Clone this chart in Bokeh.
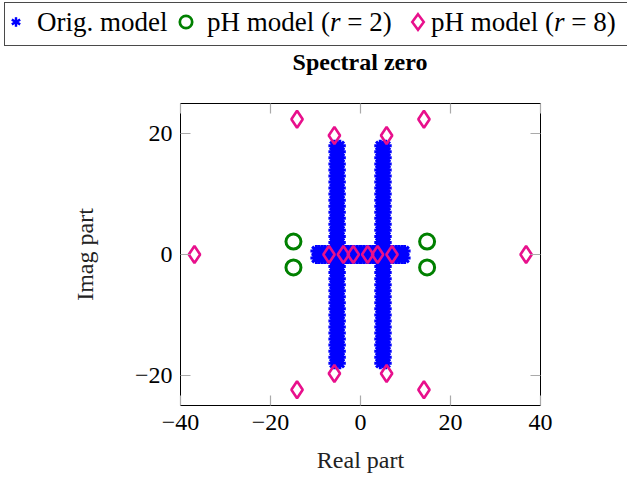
from bokeh.plotting import figure
from bokeh.layouts import column
from bokeh.models import (Range1d, LinearAxis, FixedTicker, Div,
                          GlobalInlineStyleSheet)
from bokeh.embed import file_html
from bokeh.resources import INLINE

# ---------------- data ----------------
# Original model: two dense vertical columns + one dense horizontal band
orig_col_im = [-18, -17, -16, -15, -14, -13, -12, -11, -10, -9,
               -8, -7, -6, -5, -4, -3, -2, -1, 0, 1,
               2, 3, 4, 5, 6, 7, 8, 9, 10, 11,
               12, 13, 14, 15, 16, 17, 18]
orig_col_left_re = [-5.8, -4.6]      # two close sub-columns of the left column
orig_col_right_re = [4.4, 5.6]       # two close sub-columns of the right column
orig_band_re = [-9.8, -9.2, -8.5, -7.9, -7.2, -6.6, -5.9, -5.3, -4.6, -4.0,
                -3.3, -2.7, -2.0, -1.4, -0.7, 0.0, 0.7, 1.4, 2.0, 2.7,
                3.3, 4.0, 4.6, 5.3, 5.9, 6.6, 7.2, 7.9, 8.5, 9.2, 9.8]
orig_band_im = [0.6, -0.6]           # two close rows of the horizontal band

ph2_re = [-14.9, -14.9, 14.8, 14.8]
ph2_im = [2.15, -2.15, 2.15, -2.15]

ph8_re = [-36.9, 36.8, -14.1, -14.1, 14.1, 14.1, -5.8, -5.8, 5.8, 5.8,
          -7.0, -3.8, -1.6, 1.6, 3.8, 7.0]
ph8_im = [0.0, 0.0, 22.4, -22.4, 22.4, -22.4, 19.7, -19.7, 19.7, -19.7,
          0.0, 0.0, 0.0, 0.0, 0.0, 0.0]

x_ticks = [-40, -20, 0, 20, 40]
y_ticks = [-20, 0, 20]
x_tick_labels = {-40: "\u221240", -20: "\u221220", 0: "0", 20: "20", 40: "40"}
y_tick_labels = {-20: "\u221220", 0: "0", 20: "20"}

title_text = "Spectral zero"
x_label = "Real part"
y_label = "Imag part"
legend_labels_html = ["Orig. model",
                      "pH model (<i>r</i> = 2)",
                      "pH model (<i>r</i> = 8)"]

# ---------------- styling ----------------
SERIF = "Liberation Serif"
BLUE = "#0000ff"
GREEN = "#008000"
PINK = "#e8108c"
TICK_GRAY = "#aaaaaa"
HEAD_H = 80          # height of the header strip (legend + title)

orig_re, orig_im = [], []
for xs in (orig_col_left_re, orig_col_right_re):
    for xv in xs:
        for yv in orig_col_im:
            orig_re.append(xv)
            orig_im.append(yv)
for yv in orig_band_im:
    for xv in orig_band_re:
        orig_re.append(xv)
        orig_im.append(yv)

# ---------------- main plot ----------------
p = figure(width=627, height=477 - HEAD_H, output_backend="svg", toolbar_location=None,
           x_range=Range1d(-40, 40), y_range=Range1d(-25, 25),
           min_border_left=180, min_border_right=87,
           min_border_top=103 - HEAD_H, min_border_bottom=72)
p.margin = 0
p.background_fill_color = "white"
p.border_fill_color = "white"
p.outline_line_color = "#000000"
p.outline_line_width = 1
p.xgrid.visible = False
p.ygrid.visible = False

def style_axis(ax, ticks, overrides, font_size="24px"):
    ax.ticker = FixedTicker(ticks=ticks)
    ax.minor_tick_line_color = None
    ax.major_tick_in = 10
    ax.major_tick_out = 0
    ax.major_tick_line_color = TICK_GRAY
    ax.major_tick_line_width = 1.2
    ax.axis_line_color = None
    ax.major_label_text_font = SERIF
    ax.major_label_text_color = "black"
    ax.major_label_text_font_size = font_size
    ax.major_label_overrides = overrides

xa = p.xaxis[0]
ya = p.yaxis[0]
style_axis(xa, x_ticks, x_tick_labels)
style_axis(ya, y_ticks, y_tick_labels)
xa.major_label_standoff = 9
ya.major_label_standoff = 8
xa.axis_label = x_label
ya.axis_label = y_label
for ax in (xa, ya):
    ax.axis_label_text_font = SERIF
    ax.axis_label_text_font_size = "24px"
    ax.axis_label_text_font_style = "normal"
    ax.axis_label_text_color = "#222222"
xa.axis_label_standoff = 14
ya.axis_label_standoff = 34

# mirror ticks on top and right (no labels)
top_ax = LinearAxis()
right_ax = LinearAxis()
style_axis(top_ax, x_ticks, {t: "" for t in x_ticks}, "2px")
style_axis(right_ax, y_ticks, {t: "" for t in y_ticks}, "2px")
top_ax.major_label_standoff = 0
right_ax.major_label_standoff = 0
p.add_layout(top_ax, "above")
p.add_layout(right_ax, "right")

p.scatter(orig_re, orig_im, marker="asterisk", size=12, line_color=BLUE, line_width=3)
p.scatter(ph2_re, ph2_im, marker="circle", size=15, line_color=GREEN,
          fill_color=None, line_width=3)
p.scatter(ph8_re, ph8_im, marker="diamond", size=17, line_color=PINK,
          fill_color=None, line_width=2.6)

# ---------------- header: legend box + title ----------------
def abs_svg(cx, cy, inner, w=20, h=22):
    return (f'<svg width="{w}" height="{h}" viewBox="{-w/2} {-h/2} {w} {h}" '
            f'style="position:absolute;left:{cx - w/2}px;top:{cy - h/2}px;overflow:visible">'
            f'{inner}</svg>')

asterisk_svg = abs_svg(16, 21.7,
    f'<g stroke="{BLUE}" stroke-width="2.4" stroke-linecap="butt">'
    '<line x1="0" y1="-4.8" x2="0" y2="4.8"/>'
    '<line x1="-4.2" y1="-2.4" x2="4.2" y2="2.4"/>'
    '<line x1="-4.2" y1="2.4" x2="4.2" y2="-2.4"/></g>')
circle_svg = abs_svg(186, 22,
    f'<circle cx="0" cy="0" r="6.2" fill="none" stroke="{GREEN}" stroke-width="2.7"/>')
diamond_svg = abs_svg(418, 22,
    f'<polygon points="0,-7.8 5.8,0 0,7.8 -5.8,0" fill="none" stroke="{PINK}" '
    'stroke-width="2.5" stroke-linejoin="miter"/>')

def abs_text(left, top, html, size, weight="normal", extra=""):
    return (f'<span style="position:absolute;left:{left}px;top:{top}px;'
            f'font-family:\'{SERIF}\';font-size:{size}px;line-height:{size}px;'
            f'font-weight:{weight};color:#000;white-space:nowrap;{extra}">{html}</span>')

header_html = (
    f'<div style="position:relative;width:627px;height:{HEAD_H}px;overflow:hidden;'
    'background:white;margin:0;padding:0">'
    '<div style="position:absolute;left:4px;top:2px;width:700px;height:43.5px;'
    'border:1.3px solid #4a4a4a;box-sizing:border-box"></div>'
    + asterisk_svg + circle_svg + diamond_svg
    + abs_text(37, 9, legend_labels_html[0], 27)
    + abs_text(207, 9, legend_labels_html[1], 27)
    + abs_text(431, 9, legend_labels_html[2], 27)
    + abs_text(0, 50, title_text, 24, "bold", "width:720px;text-align:center;")
    + '</div>'
)
header = Div(text=header_html, width=627, height=HEAD_H, margin=0)

layout = column(header, p, spacing=0, margin=0)
layout.stylesheets = [GlobalInlineStyleSheet(
    css="html, body { margin: 0 !important; padding: 0 !important; overflow: hidden; }")]

open("out.html", "w").write(file_html(layout, INLINE))
